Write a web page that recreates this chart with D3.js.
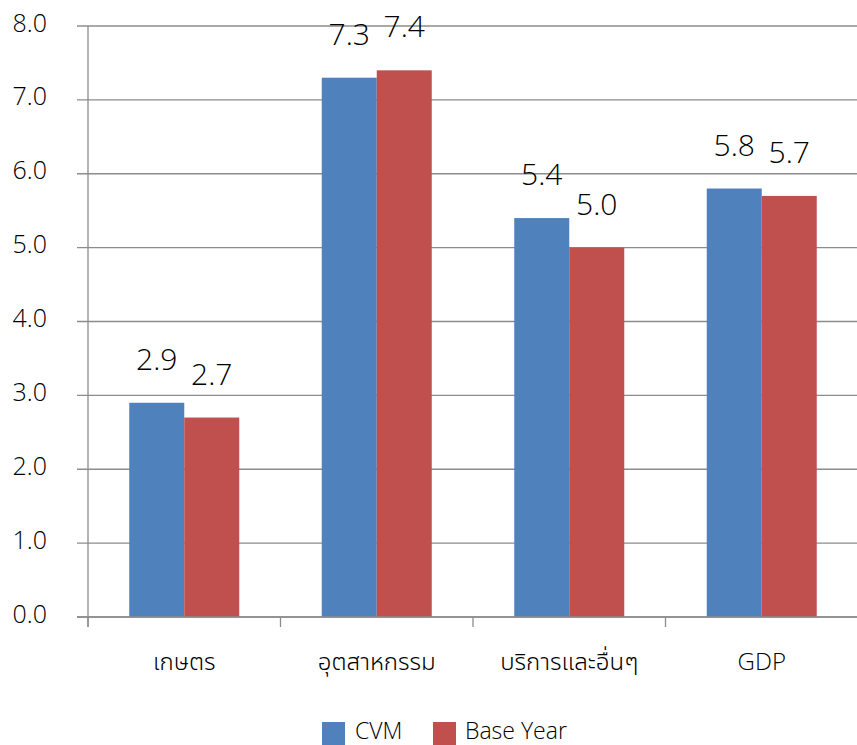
<!DOCTYPE html>
<html><head><meta charset="utf-8">
<script src="https://cdn.jsdelivr.net/npm/d3@7"></script>
<style>body{margin:0;background:#fff}svg{display:block}text{font-family:"Open Sans","Noto Sans","DejaVu Sans",sans-serif;font-weight:300;fill:#000}</style>
</head><body><svg id="c" width="857" height="745"></svg>
<script>
const categories = ["เกษตร","อุตสาหกรรม","บริการและอื่นๆ","GDP"];
const seriesNames = ["CVM","Base Year"];
const cvm = [2.9,7.3,5.4,5.8];
const baseYear = [2.7,7.4,5.0,5.7];
const yTicks = [0,1,2,3,4,5,6,7,8];
const colors = ["#4F81BD","#C0504D"];

const svg = d3.select("#c");
const mLeft = 88, mRight = 858, mTop = 26, mBottom = 617;
const x = d3.scaleBand().domain(categories).range([mLeft,mRight]).padding(0);
const y = d3.scaleLinear().domain([0,8]).range([mBottom,mTop]);
const groupW = 110;
const xs = d3.scaleBand().domain(seriesNames).range([0,groupW]).padding(0);

// gridlines
svg.append("g").selectAll("line").data(yTicks).join("line")
  .attr("x1",77).attr("x2",857).attr("y1",d=>y(d)).attr("y2",d=>y(d))
  .attr("stroke","#8c8c8c").attr("stroke-width",1.3);
// y labels
svg.append("g").selectAll("text").data(yTicks).join("text")
  .attr("x",47).attr("y",d=>y(d)).attr("dy","0.22em").attr("text-anchor","end")
  .attr("font-size",25).text(d=>d.toFixed(1));

const data = seriesNames.map((s,i)=>({name:s,vals:i===0?cvm:baseYear,color:colors[i]}));
data.forEach(s=>{
  const g = svg.append("g");
  g.selectAll("rect").data(categories).join("rect")
    .attr("x",(c,j)=>x(c)+x.bandwidth()/2-groupW/2+xs(s.name))
    .attr("y",(c,j)=>y(s.vals[j]))
    .attr("width",xs.bandwidth())
    .attr("height",(c,j)=>y(0)-y(s.vals[j]))
    .attr("fill",s.color);
  g.selectAll("text").data(categories).join("text")
    .attr("x",(c,j)=>x(c)+x.bandwidth()/2-groupW/2+xs(s.name)+xs.bandwidth()/2)
    .attr("y",(c,j)=>y(s.vals[j])-33)
    .attr("text-anchor","middle").attr("font-size",30)
    .text((c,j)=>s.vals[j].toFixed(1));
});

// axes lines
svg.append("line").attr("x1",mLeft).attr("x2",mLeft).attr("y1",mTop).attr("y2",627)
  .attr("stroke","#8c8c8c").attr("stroke-width",1.3);
svg.append("line").attr("x1",77).attr("x2",857).attr("y1",mBottom).attr("y2",mBottom)
  .attr("stroke","#8c8c8c").attr("stroke-width",1.3);
const bounds = categories.map(c=>x(c)).concat([mRight]);
svg.append("g").selectAll("line").data(bounds).join("line")
  .attr("x1",d=>d).attr("x2",d=>d).attr("y1",mBottom).attr("y2",627)
  .attr("stroke","#8c8c8c").attr("stroke-width",1.3);
// category labels
svg.append("g").selectAll("text").data(categories).join("text")
  .attr("x",c=>x(c)+x.bandwidth()/2).attr("y",670).attr("text-anchor","middle")
  .attr("font-size",24)
  .style("font-family",c=>/[\u0E00-\u0E7F]/.test(c)?'"Noto Sans Thai UI","Noto Sans Thai","Noto Sans Thai Looped","Sarabun","Loma","Garuda","Waree","Tahoma","Leelawadee UI","Noto Sans", sans-serif':null)
  .style("font-weight",300)
  .text(c=>c);

// legend
const leg = [{x:322,tx:355},{x:433,tx:465}];
data.forEach((s,i)=>{
  svg.append("rect").attr("x",leg[i].x).attr("y",722).attr("width",23).attr("height",23).attr("fill",s.color);
  svg.append("text").attr("x",leg[i].tx).attr("y",739).attr("font-size",23).text(s.name);
});
</script></body></html>
